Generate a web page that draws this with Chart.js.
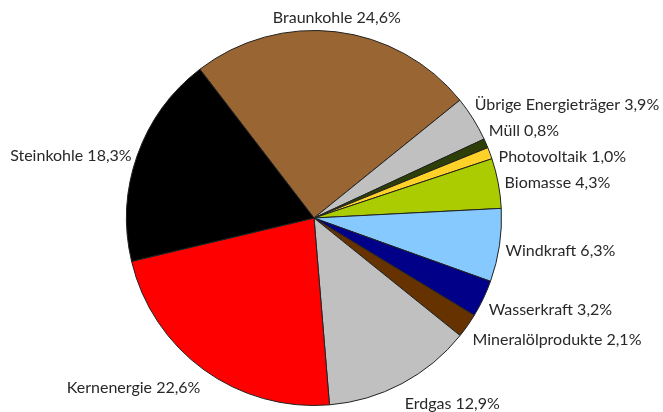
<!DOCTYPE html>
<html>
<head>
<meta charset="utf-8">
<script src="https://cdn.jsdelivr.net/npm/chart.js@4/dist/chart.umd.min.js"></script>
<style>
  html, body { margin: 0; padding: 0; background: #fff; }
  #wrap { width: 663px; height: 412px; position: relative; }
</style>
</head>
<body>
<div id="wrap"><canvas id="mix"></canvas></div>
<script>
// Bruttostromerzeugung nach Energieträgern (Anteile in %)
const categories = [
    'Braunkohle', 'Übrige Energieträger', 'Müll', 'Photovoltaik', 'Biomasse',
    'Windkraft', 'Wasserkraft', 'Mineralölprodukte', 'Erdgas', 'Kernenergie', 'Steinkohle'
];
const shares = [24.6, 3.9, 0.8, 1.0, 4.3, 6.3, 3.2, 2.1, 12.9, 22.6, 18.3];
const sliceColors = [
    '#996633', '#c0c0c0', '#2d3f06', '#ffd22a', '#aacc00',
    '#85c9ff', '#000088', '#663300', '#c0c0c0', '#ff0000', '#000000'
];

const LABEL_GAP = 26;

// draws "Name xx,x%" outside each slice, pushing crowded labels apart
const sliceLabels = {
    id: 'sliceLabels',
    afterDatasetsDraw: function(chart) {
        const ctx = chart.ctx;
        const arcs = chart.getDatasetMeta(0).data;
        const items = arcs.map(function(arc, i) {
            const p = arc.getProps(['x', 'y', 'startAngle', 'endAngle', 'outerRadius'], true);
            const mid = (p.startAngle + p.endAngle) / 2;
            return {
                cx: p.x, cy: p.y, r: p.outerRadius,
                c: Math.cos(mid), s: Math.sin(mid),
                text: categories[i] + ' ' + shares[i].toFixed(1).replace('.', ',') + '%'
            };
        });
        items.forEach(function(it) { it.y = it.cy + (it.r + 15) * it.s; });

        [1, -1].forEach(function(side) {
            const grp = items.filter(function(it) { return Math.sign(it.c) === side && Math.abs(it.c) > 0.3; })
                .sort(function(a, b) { return a.y - b.y; });
            for (let k = 0; k < 200; k++) {
                for (let j = 0; j < grp.length - 1; j++) {
                    const d = grp[j + 1].y - grp[j].y;
                    if (d < LABEL_GAP) {
                        const m = (LABEL_GAP - d) / 2;
                        grp[j].y -= m;
                        grp[j + 1].y += m;
                    }
                }
            }
        });

        ctx.save();
        ctx.font = '16px Lato';
        ctx.fillStyle = '#282828';
        ctx.textBaseline = 'middle';
        items.forEach(function(it) {
            let x;
            let dy = 0;
            if (Math.abs(it.c) < 0.3) {
                ctx.textAlign = 'center';
                x = it.cx + (it.r + 6) * it.c;
                dy = 1;
            } else {
                const sn = Math.max(-1, Math.min(1, (it.y - it.cy) / (it.r + 15)));
                const cs = Math.sqrt(1 - sn * sn) * Math.sign(it.c);
                x = it.cx + (it.r + 6) * cs;
                ctx.textAlign = it.c > 0 ? 'left' : 'right';
                if (it.c < 0) dy = 6;
                else if (it.s > 0) dy = 3 + 4 * it.s;
            }
            ctx.fillText(it.text, x, it.y + dy);
        });
        ctx.restore();
    }
};

new Chart(document.getElementById('mix'), {
    type: 'pie',
    data: {
        labels: categories,
        datasets: [{
            data: shares,
            backgroundColor: sliceColors,
            borderColor: '#222',
            borderWidth: 1
        }]
    },
    options: {
        responsive: true,
        maintainAspectRatio: false,
        animation: false,
        rotation: -37.5,
        layout: { padding: { top: 30, bottom: 6, left: 126, right: 161 } },
        plugins: {
            legend: { display: false },
            tooltip: { enabled: false }
        }
    },
    plugins: [sliceLabels]
});
</script>
</body>
</html>
